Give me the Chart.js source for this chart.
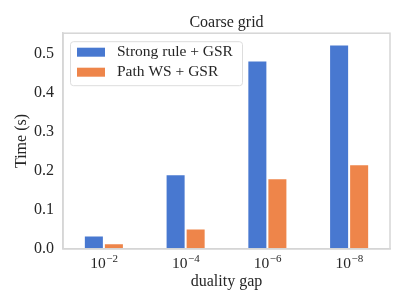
<!DOCTYPE html>
<html>
<head>
<meta charset="utf-8">
<script src="https://cdn.jsdelivr.net/npm/chart.js@4"></script>
<style>
  html, body { margin: 0; padding: 0; background: #fff; }
  #wrap { width: 407px; height: 305px; position: relative; }
</style>
</head>
<body>
<div id="wrap"><canvas id="chart"></canvas></div>
<script>
  // --- data ---
  var gapExponents = ["\u22122", "\u22124", "\u22126", "\u22128"];
  var gapLabels = gapExponents.map(function (e) { return "10" + e; });
  var strongRule = [0.034, 0.191, 0.483, 0.524];
  var pathWS = [0.014, 0.052, 0.181, 0.217];
  var seriesNames = ["Strong rule + GSR", "Path WS + GSR"];
  var seriesColors = ["#4878d0", "#ee854a"];

  var FONT = "'Liberation Serif', 'DejaVu Serif', serif";
  var FRAME = "#d6d6d6";
  var INK = "#262626";

  // frame around the plot, x tick labels with superscripts, legend box
  var framePlugin = {
    id: "frame",
    afterDatasetsDraw: function (chart) {
      var a = chart.chartArea;
      var ctx = chart.ctx;
      ctx.save();
      ctx.strokeStyle = FRAME;
      ctx.lineWidth = 1.5;
      ctx.strokeRect(a.left, a.top, a.right - a.left, a.bottom - a.top);

      // x tick labels: "10" with raised exponent
      var xs = chart.scales.x;
      ctx.fillStyle = INK;
      ctx.textBaseline = "alphabetic";
      gapExponents.forEach(function (e, i) {
        var cx = xs.getPixelForTick(i);
        ctx.font = "15.5px " + FONT;
        var wBase = ctx.measureText("10").width;
        ctx.font = "11px " + FONT;
        var wExp = ctx.measureText(e).width;
        var x0 = cx - (wBase + wExp) / 2;
        ctx.font = "15.5px " + FONT;
        ctx.textAlign = "left";
        ctx.fillText("10", x0, a.bottom + 19);
        ctx.font = "11px " + FONT;
        ctx.fillText(e, x0 + wBase + 0.5, a.bottom + 13.5);
      });

      // legend
      var x = a.left + 7, y = a.top + 8, w = 172, h = 44;
      ctx.fillStyle = "rgba(255,255,255,0.85)";
      ctx.strokeStyle = "#dddddd";
      ctx.lineWidth = 1;
      ctx.beginPath();
      ctx.roundRect(x + 0.5, y + 0.5, w, h, 3);
      ctx.fill();
      ctx.stroke();
      ctx.font = "15.5px " + FONT;
      ctx.textBaseline = "middle";
      ctx.textAlign = "left";
      chart.data.datasets.forEach(function (ds, i) {
        var cy = y + 11 + i * 20;
        ctx.fillStyle = ds.backgroundColor;
        ctx.fillRect(x + 7, cy - 4.5, 28, 9);
        ctx.fillStyle = INK;
        ctx.fillText(ds.label, x + 47, cy);
      });
      ctx.restore();
    }
  };

  new Chart(document.getElementById("chart"), {
    type: "bar",
    data: {
      labels: gapLabels,
      datasets: [
        { label: seriesNames[0], data: strongRule, backgroundColor: seriesColors[0],
          borderColor: "#ffffff", borderWidth: 1, categoryPercentage: 0.49, barPercentage: 1 },
        { label: seriesNames[1], data: pathWS, backgroundColor: seriesColors[1],
          borderColor: "#ffffff", borderWidth: 1, categoryPercentage: 0.49, barPercentage: 1 }
      ]
    },
    options: {
      responsive: true,
      maintainAspectRatio: false,
      animation: false,
      layout: { padding: { left: 0, right: 17, top: 0, bottom: 10 } },
      plugins: {
        legend: { display: false },
        tooltip: { enabled: false },
        title: {
          display: true,
          fullSize: false,
          text: "Coarse grid",
          color: INK,
          font: { family: FONT, size: 16, weight: "normal" },
          padding: { top: 13, bottom: 1 }
        }
      },
      scales: {
        x: {
          grid: { display: false, drawTicks: false },
          border: { color: FRAME, width: 1.5 },
          ticks: { display: false },
          title: { display: true, text: "duality gap", color: INK,
                   font: { family: FONT, size: 16 }, padding: { top: 23, bottom: 4 } }
        },
        y: {
          min: 0,
          max: 0.553,
          afterFit: function (scale) { scale.width = 63; },
          grid: { display: false, drawTicks: false },
          border: { color: FRAME, width: 1.5 },
          ticks: {
            stepSize: 0.1,
            includeBounds: false,
            padding: 9,
            color: INK,
            font: { family: FONT, size: 16 },
            callback: function (v) { return v.toFixed(1); }
          },
          title: { display: true, text: "Time (s)", color: INK,
                   font: { family: FONT, size: 16 }, padding: { top: 12, bottom: 4 } }
        }
      }
    },
    plugins: [framePlugin]
  });
</script>
</body>
</html>
